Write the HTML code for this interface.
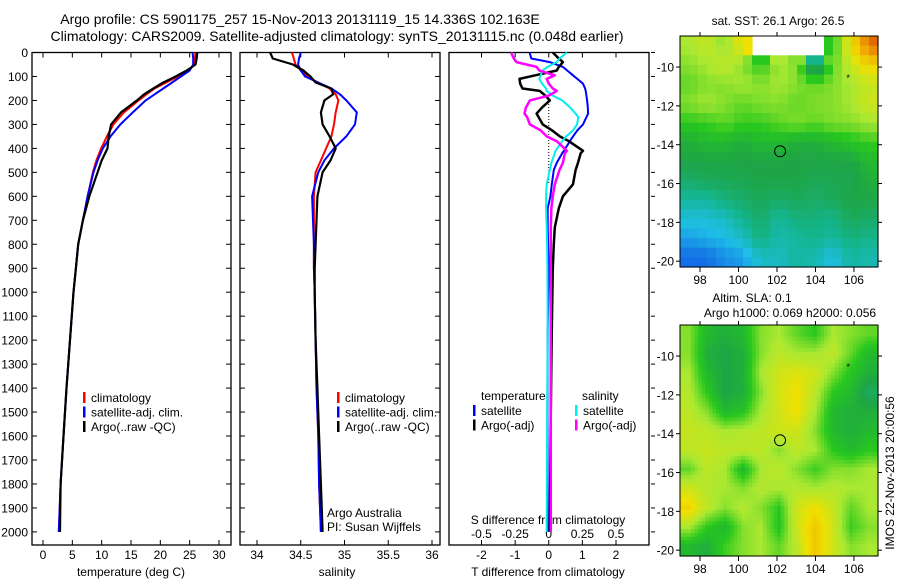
<!DOCTYPE html>
<html><head><meta charset="utf-8">
<style>
body{margin:0;background:#fff;}
svg{display:block;font-family:"Liberation Sans",sans-serif;}
text{fill:#000;}
</style></head>
<body>
<svg id="c" width="900" height="580" viewBox="0 0 900 580">
<text x="300" y="24" font-size="14" text-anchor="middle">Argo profile: CS 5901175_257 15-Nov-2013 20131119_15 14.336S 102.163E</text>
<text x="337" y="41" font-size="14" text-anchor="middle">Climatology: CARS2009. Satellite-adjusted climatology: synTS_20131115.nc (0.048d earlier)</text>
<text x="778" y="25" font-size="12" text-anchor="middle">sat. SST: 26.1 Argo: 26.5</text>
<text x="752" y="302" font-size="12" text-anchor="middle">Altim. SLA: 0.1</text>
<text x="790" y="317" font-size="12" text-anchor="middle">Argo h1000: 0.069 h2000: 0.056</text>
<text transform="translate(894,473) rotate(-90)" font-size="12" text-anchor="middle">IMOS 22-Nov-2013 20:00:56</text>
</svg>
<script>
// ---------- data ----------
const depths = [0,25,50,75,100,125,150,175,200,250,300,350,400,450,500,600,700,800,900,1000,1200,1400,1600,1800,2000];
const tempClim = [26.0,25.9,25.8,24.8,23.0,21.0,19.0,17.6,16.3,13.8,12.0,10.9,9.9,9.1,8.5,7.6,6.8,6.0,5.6,5.2,4.6,4.0,3.5,3.0,2.7];
const tempSat  = [25.5,25.6,25.6,25.0,23.5,22.0,20.5,19.0,17.5,15.3,13.2,11.5,10.2,9.3,8.6,7.6,6.8,6.0,5.6,5.2,4.6,4.0,3.5,3.0,2.7];
const tempArgo = [26.3,26.2,26.0,24.5,22.6,20.5,18.8,17.2,16.0,13.3,11.6,11.2,11.0,10.0,9.3,7.9,6.8,6.0,5.6,5.2,4.6,4.0,3.5,3.0,2.9];
const salClim = [34.40,34.42,34.44,34.50,34.58,34.69,34.83,34.90,34.93,34.90,34.88,34.85,34.79,34.73,34.67,34.65,34.65,34.65,34.65,34.66,34.67,34.68,34.70,34.71,34.73];
const salSat  = [34.50,34.48,34.47,34.50,34.55,34.70,34.85,34.95,35.02,35.14,35.12,35.02,34.88,34.77,34.70,34.63,34.64,34.65,34.65,34.66,34.67,34.68,34.70,34.71,34.73];
const salArgo = [34.15,34.18,34.41,34.53,34.61,34.67,34.85,34.87,34.77,34.73,34.75,34.83,34.90,34.84,34.75,34.69,34.68,34.67,34.66,34.66,34.67,34.69,34.71,34.73,34.75];
const dDepths = [0,25,40,60,75,95,110,130,150,160,180,200,230,255,270,300,325,350,370,410,420,460,490,550,600,650,730,800,900,1150,1500,2000];
const dTSat  = [-0.57,-0.52,0.03,0.42,0.55,0.72,0.85,1.02,1.08,1.1,1.12,1.14,1.16,1.17,1.12,1.02,0.85,0.72,0.63,0.45,0.4,0.24,0.15,0.09,0.05,-0.03,-0.03,-0.02,0,-0.03,-0.04,-0.03];
const dTArgo = [0.12,0.3,0.42,0.3,0.24,-0.4,-0.87,-0.85,-0.78,-0.27,-0.1,0.03,-0.2,-0.36,-0.3,-0.18,0.1,0.33,0.6,1.02,0.95,0.87,0.8,0.72,0.42,0.3,0.18,0.15,0.12,0.09,0.06,0.03];
const dSSat  = [0.135,0.08,0.06,-0.01,-0.045,-0.06,-0.07,-0.05,-0.02,-0.015,0.03,0.1,0.16,0.2,0.22,0.21,0.18,0.13,0.1,0.05,0.045,0.02,0.008,-0.015,-0.02,-0.02,-0.015,-0.012,-0.01,-0.008,-0.012,-0.015];
const dSArgo = [-0.28,-0.26,-0.24,-0.09,-0.07,0.045,-0.015,0.0,0.03,0.06,0.0,-0.14,-0.17,-0.18,-0.16,-0.14,-0.06,-0.015,0.06,0.135,0.12,0.105,0.08,0.045,0.03,0.02,0.015,0.015,0.015,0.015,0.015,0.015];
const depthTicks = [0,100,200,300,400,500,600,700,800,900,1000,1100,1200,1300,1400,1500,1600,1700,1800,1900,2000];
const tempTicks = [0,5,10,15,20,25,30];
const salTicks = [34,34.5,35,35.5,36];
const salTickLabels = ["34","34.5","35","35.5","36"];
const dTTicks = [-2,-1,0,1,2];
const dSTicks = [-0.5,-0.25,0,0.25,0.5];
const dSTickLabels = ["-0.5","-0.25","0","0.25","0.5"];
const lonTicks = [98,100,102,104,106];
const latTicks = [-10,-12,-14,-16,-18,-20];
const sstGrid = [
[0.62,0.65,0.60,0.70,null,null,null,null,0.55,0.70,0.85],
[0.60,0.62,0.65,0.60,0.55,0.62,0.60,0.40,0.58,0.65,0.72],
[0.58,0.60,0.60,0.62,0.60,0.62,0.60,0.58,0.60,0.62,0.65],
[0.60,0.62,0.60,0.58,0.60,0.60,0.58,0.60,0.60,0.62,0.66],
[0.55,0.56,0.58,0.56,0.56,0.58,0.60,0.58,0.60,0.60,0.62],
[0.50,0.52,0.52,0.50,0.52,0.52,0.50,0.50,0.52,0.54,0.56],
[0.48,0.48,0.48,0.48,0.48,0.48,0.48,0.48,0.48,0.48,0.52],
[0.44,0.46,0.46,0.47,0.48,0.48,0.48,0.46,0.47,0.47,0.50],
[0.38,0.38,0.42,0.44,0.46,0.44,0.46,0.44,0.46,0.48,0.48],
[0.32,0.32,0.34,0.40,0.44,0.38,0.42,0.42,0.40,0.46,0.44],
[0.26,0.28,0.30,0.34,0.42,0.36,0.38,0.40,0.38,0.42,0.40],
[0.20,0.20,0.24,0.26,0.34,0.34,0.38,0.36,0.30,0.38,0.36]];
const slaGrid = [
[0.60,0.52,0.50,0.52,0.60,0.62,0.58,0.55,0.62,0.60,0.58],
[0.60,0.50,0.48,0.50,0.60,0.64,0.62,0.62,0.64,0.58,0.52],
[0.62,0.52,0.48,0.50,0.62,0.66,0.68,0.66,0.60,0.54,0.50],
[0.63,0.55,0.48,0.50,0.60,0.67,0.70,0.64,0.55,0.52,0.45],
[0.64,0.60,0.52,0.54,0.62,0.66,0.70,0.62,0.52,0.50,0.50],
[0.65,0.64,0.62,0.63,0.64,0.66,0.66,0.60,0.52,0.50,0.52],
[0.64,0.65,0.64,0.64,0.64,0.60,0.64,0.62,0.55,0.52,0.55],
[0.58,0.64,0.62,0.52,0.62,0.64,0.60,0.56,0.60,0.60,0.62],
[0.66,0.63,0.62,0.60,0.63,0.62,0.63,0.62,0.63,0.62,0.62],
[0.72,0.64,0.60,0.63,0.60,0.55,0.66,0.70,0.65,0.58,0.62],
[0.62,0.55,0.52,0.60,0.62,0.54,0.66,0.74,0.66,0.56,0.60],
[0.52,0.50,0.56,0.60,0.62,0.58,0.64,0.74,0.66,0.60,0.62]];
const argoPos = [102.16,-14.34];
const otherPos = [105.7,-10.5];

// ---------- drawing ----------
const NS="http://www.w3.org/2000/svg";
const svg=document.getElementById('c');
function el(tag,attrs,parent){const e=document.createElementNS(NS,tag);for(const k in attrs)e.setAttribute(k,attrs[k]);(parent||svg).appendChild(e);return e;}
const TOP=52.5,BOT=545;
function yD(d){return TOP+d*0.2397;}
function lin(d0,d1,p0,p1){return v=>p0+(v-d0)*(p1-p0)/(d1-d0);}
const xT=lin(0,30,43,219), xS=lin(34,36,257,432), xDT=lin(-2,2,481.5,616), xDS=lin(-0.5,0.5,481.5,616);
const panels=[[32,231,'temperature-panel'],[240,440,'salinity-panel'],[449,649,'difference-panel']];

function path(xs,ds,fx,color,w,name){
  let d='';xs.forEach((v,i)=>{d+=(i?'L':'M')+fx(v).toFixed(1)+','+yD(ds[i]).toFixed(1);});
  const p=el('path',{d:d,fill:'none',stroke:color,'stroke-width':w,'stroke-linejoin':'round'});
  
  
}
panels.forEach(([l,r,n],pi)=>{
  const g=el('g',{});
  
  
  const fr=el('rect',{x:l,y:TOP,width:r-l,height:BOT-TOP,fill:'none',stroke:'#000','stroke-width':1.3},g);
  
  
  depthTicks.forEach(d=>{
    const y=yD(d);
    if(pi<2){el('line',{x1:l,x2:l+5,y1:y,y2:y,stroke:'#000'},g);el('line',{x1:r,x2:r-5,y1:y,y2:y,stroke:'#000'},g);}
    else{el('line',{x1:r+2,x2:r+6,y1:y,y2:y,stroke:'#000'},g);}
    if(pi===0){const t=el('text',{x:l-4,y:y+4.5,'font-size':12,'text-anchor':'end'},g);t.textContent=d;
      
      }
  });
});
function xticks(vals,labels,fx,l,r,ly,name,top){
  vals.forEach((v,i)=>{const x=fx(v);
    el('line',{x1:x,x2:x,y1:BOT,y2:BOT-5,stroke:'#000'});
    if(top)el('line',{x1:x,x2:x,y1:TOP,y2:TOP+5,stroke:'#000'});
    const t=el('text',{x:x,y:ly,'font-size':12,'text-anchor':'middle'});t.textContent=labels[i];
    
    });
}
xticks(tempTicks,tempTicks.map(String),xT,32,231,559,'temp-tick-label',true);
xticks(salTicks,salTickLabels,xS,240,440,559,'salinity-tick-label',true);
xticks(dTTicks,dTTicks.map(String),xDT,449,649,559,'t-diff-tick-label',true);
dSTicks.forEach((v,i)=>{const t=el('text',{x:xDS(v),y:538,'font-size':12,'text-anchor':'middle'});t.textContent=dSTickLabels[i];
  
  });
function label(x,y,s,name,anchor,size){const t=el('text',{x:x,y:y,'font-size':size||12,'text-anchor':anchor||'start'});t.textContent=s;
  
  return t;}
label(131,576,'temperature (deg C)','temperature-axis-title','middle');
label(337,576,'salinity','salinity-axis-title','middle');
label(548,576,'T difference from climatology','t-diff-axis-title','middle');
label(548,524,'S difference from climatology','s-diff-axis-title','middle');
label(327,517,'Argo Australia','argo-australia-note');
label(327,531,'PI: Susan Wijffels','pi-note');
el('line',{x1:xDT(0),x2:xDT(0),y1:95,y2:185,stroke:'#000','stroke-dasharray':'1,2'});
path(tempClim,depths,xT,'#f00',2,'temp-climatology-line');
path(tempSat,depths,xT,'#00f',2,'temp-satellite-line');
path(tempArgo,depths,xT,'#000',2.2,'temp-argo-line');
path(salClim,depths,xS,'#f00',2,'salinity-climatology-line');
path(salSat,depths,xS,'#00f',2,'salinity-satellite-line');
path(salArgo,depths,xS,'#000',2.2,'salinity-argo-line');
path(dTSat,dDepths,xDT,'#00f',2,'t-diff-satellite-line');
path(dTArgo,dDepths,xDT,'#000',2.5,'t-diff-argo-line');
path(dSSat,dDepths,xDS,'#0ee',2,'s-diff-satellite-line');
path(dSArgo,dDepths,xDS,'#f0f',2.5,'s-diff-argo-line');
function leg(x,y,c,s,name){el('rect',{x:x,y:y-10,width:2.5,height:11,fill:c});label(x+8,y,s,name);}
[[83,'climatology','#f00'],[83,'satellite-adj. clim.','#00f'],[83,'Argo(..raw -QC)','#000']].forEach((a,i)=>{leg(a[0],402+i*14.5,a[2],a[1],'legend-entry');leg(337,402+i*14.5,a[2],a[1],'legend-entry');});
label(481,400,'temperature','legend-temperature-heading');
label(582,400,'salinity','legend-salinity-heading');
leg(473,415,'#00f','satellite','legend-entry');leg(473,429.5,'#000','Argo(-adj)','legend-entry');
leg(575,415,'#0ee','satellite','legend-entry');leg(575,429.5,'#f0f','Argo(-adj)','legend-entry');

// ---------- maps ----------
const stops=[[0,[0,40,190]],[0.2,[20,110,230]],[0.3,[30,190,230]],[0.4,[20,180,140]],[0.48,[30,165,70]],[0.55,[40,200,30]],[0.62,[170,232,50]],[0.7,[240,224,0]],[0.8,[240,160,0]],[0.9,[210,50,0]],[1,[160,0,0]]];
function cmap(v){for(let i=1;i<stops.length;i++){if(v<=stops[i][0]){const a=stops[i-1],b=stops[i],f=(v-a[0])/(b[0]-a[0]);return 'rgb('+a[1].map((c,k)=>Math.round(c+f*(b[1][k]-c))).join(',')+')';}}return 'rgb(160,0,0)';}
function sample(grid,r,c){
  const R=grid.length-1,C=grid[0].length-1;
  r=Math.max(0,Math.min(R,r));c=Math.max(0,Math.min(C,c));
  const r0=Math.floor(r),c0=Math.floor(c),r1=Math.min(R,r0+1),c1=Math.min(C,c0+1),fr=r-r0,fc=c-c0;
  const g=(a,b)=>grid[a][b];
  if(g(r0,c0)===null||g(r0,c1)===null||g(r1,c0)===null||g(r1,c1)===null){const v=grid[Math.round(r)][Math.round(c)];return v;}
  return (g(r0,c0)*(1-fc)+g(r0,c1)*fc)*(1-fr)+(g(r1,c0)*(1-fc)+g(r1,c1)*fc)*fr;
}
function drawMap(grid,top,name,sub){
  const L=680,R=878,B=top+231;
  const lon0=96.96,lon1=107.25,lat0=-8.4,lat1=-20.3;
  const fx=lin(lon0,lon1,L,R), fy=lin(lat0,lat1,top,B);
  const g=el('g',{});
  
  
  const nr=grid.length*sub,nc=grid[0].length*sub;
  const dlon=(lon1-lon0)/nc,dlat=(lat0-lat1)/nr;
  for(let i=0;i<nr;i++)for(let j=0;j<nc;j++){
    const v=sample(grid,(i+0.5)/sub-0.5,(j+0.5)/sub-0.5);
    if(v===null)continue;
    const x0=fx(lon0+j*dlon),x1=fx(lon0+(j+1)*dlon),y0=fy(lat0-i*dlat),y1=fy(lat0-(i+1)*dlat);
    const r=el('rect',{x:x0.toFixed(1),y:y0.toFixed(1),width:(x1-x0+0.6).toFixed(1),height:(y1-y0+0.6).toFixed(1),fill:cmap(v)},g);
    
    
  }
  el('rect',{x:L,y:top,width:R-L,height:B-top,fill:'none',stroke:'#000','stroke-width':1},g);
  lonTicks.forEach(v=>{const x=fx(v);el('line',{x1:x,x2:x,y1:B,y2:B+5,stroke:'#000'},g);el('line',{x1:x,x2:x,y1:top,y2:top-4,stroke:'#000'},g);
    const t=el('text',{x:x,y:B+17,'font-size':12,'text-anchor':'middle'},g);t.textContent=v;
    
    });
  latTicks.forEach(v=>{const y=fy(v);el('line',{x1:L,x2:L-4,y1:y,y2:y,stroke:'#000'},g);el('line',{x1:R,x2:R+4,y1:y,y2:y,stroke:'#000'},g);
    const t=el('text',{x:L-6,y:y+4.5,'font-size':12,'text-anchor':'end'},g);t.textContent=v;
    
    });
  const c=el('circle',{cx:fx(argoPos[0]),cy:fy(argoPos[1]),r:5.5,fill:'none',stroke:'#000','stroke-width':1},g);
  
  
  const s=el('text',{x:fx(otherPos[0]),y:fy(otherPos[1])+4,'font-size':9,'text-anchor':'middle'},g);s.textContent='*';
  
  
}
drawMap(sstGrid,36,'sst-map',2);
drawMap(slaGrid,325,'sla-map',5);
</script>
</body></html>
